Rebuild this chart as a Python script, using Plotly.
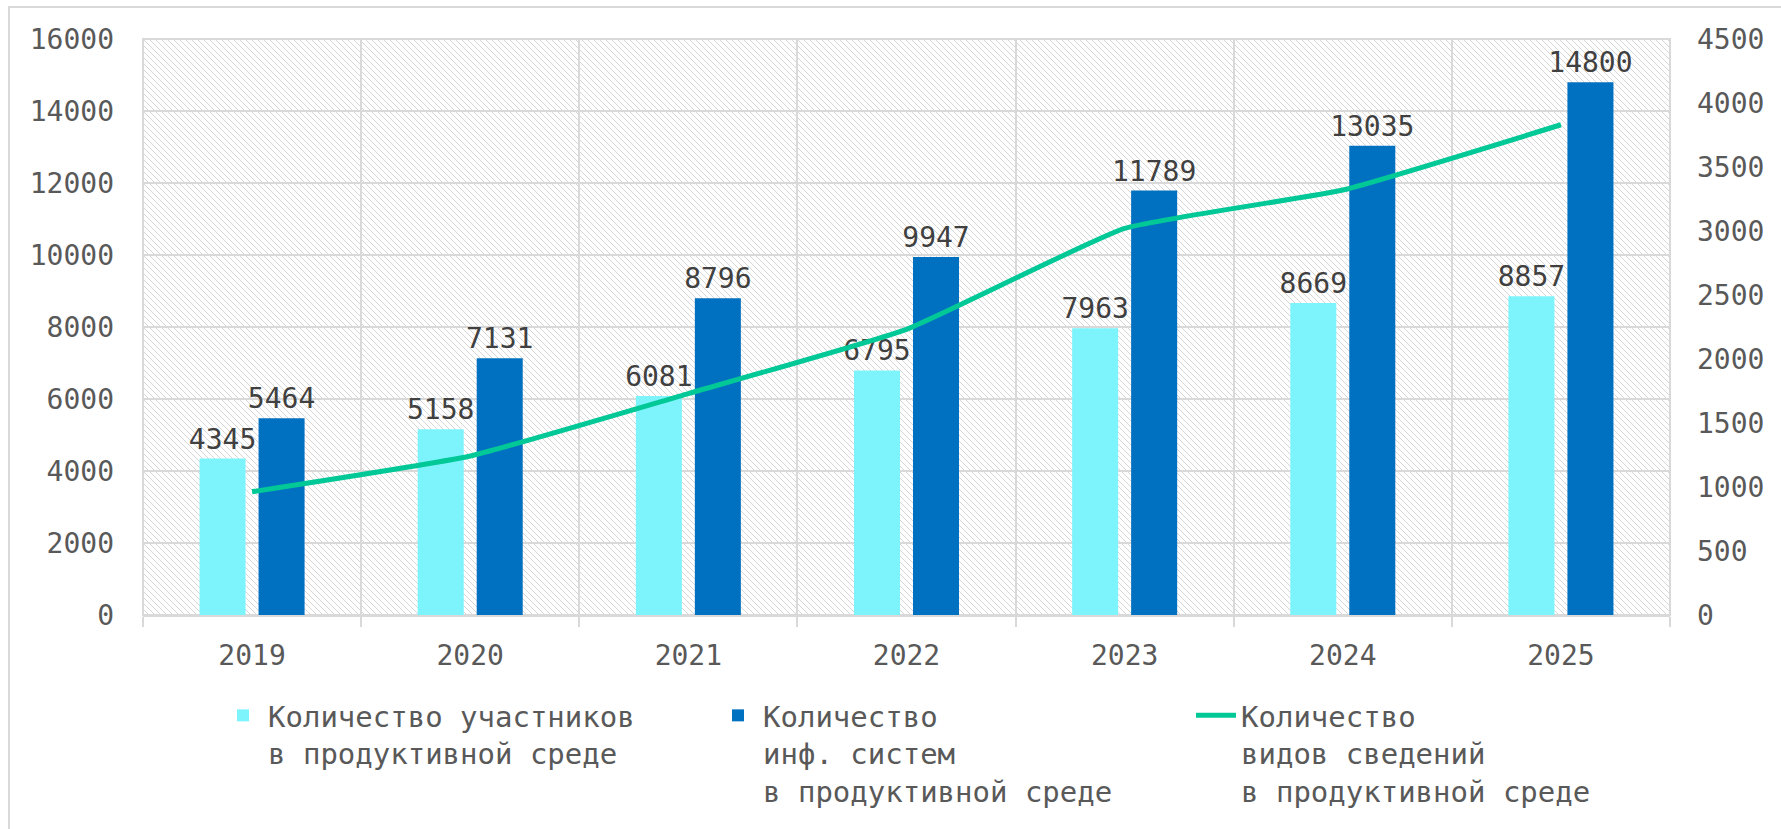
import plotly.graph_objects as go

years = ["2019", "2020", "2021", "2022", "2023", "2024", "2025"]
participants = [4345, 5158, 6081, 6795, 7963, 8669, 8857]
systems = [5464, 7131, 8796, 9947, 11789, 13035, 14800]
info_types = [963, 1242, 1730, 2232, 3020, 3320, 3830]

name_participants = "Количество участников<br>в продуктивной среде"
name_systems = "Количество<br>инф. систем<br>в продуктивной среде"
name_types = "Количество<br>видов сведений<br>в продуктивной среде"

FONT = "DejaVu Sans Mono"
TICK = "#595959"
LBL = "#404040"
GRID = "#d9d9d9"

W, H = 1781, 829
ML, MR, MT, MB = 143, 111, 39, 214
PW, PH = W - ML - MR, H - MT - MB


def px(x):
    return (x - ML) / PW


def py(y):
    return (H - MB - y) / PH


fig = go.Figure()
fig.add_trace(go.Bar(
    x=years, y=participants, name=name_participants,
    marker=dict(color="#7DF4FC", line=dict(width=8, color="rgba(0,0,0,0)")),
    text=participants, textposition="outside", cliponaxis=False,
    constraintext="none",
    textfont=dict(family=FONT, size=28, color=LBL), legend="legend",
))
fig.add_trace(go.Bar(
    x=years, y=systems, name=name_systems,
    marker=dict(color="#0070C0", line=dict(width=8, color="rgba(0,0,0,0)")),
    text=systems, textposition="outside", cliponaxis=False,
    constraintext="none",
    textfont=dict(family=FONT, size=28, color=LBL), legend="legend2",
))
fig.add_trace(go.Scatter(
    x=years, y=info_types, name=name_types, yaxis="y2", mode="lines",
    line=dict(color="#00C896", width=5, shape="spline", smoothing=0.4),
    legend="legend3", cliponaxis=False,
))

hatch = (
    "data:image/svg+xml;utf8,"
    "<svg xmlns='http://www.w3.org/2000/svg' width='%d' height='%d'>"
    "<defs><pattern id='p' width='6' height='6' patternUnits='userSpaceOnUse'>"
    "<path d='M-1,-1 L7,7 M-1,5 L1,7 M5,-1 L7,1' stroke='%%23d6d6d6' stroke-width='1'/>"
    "</pattern></defs><rect width='100%%' height='100%%' fill='url(%%23p)'/></svg>"
) % (PW, PH)

legend_common = dict(
    orientation="h", yanchor="top", xanchor="left", valign="top",
    font=dict(family=FONT, size=29, color=TICK),
    bgcolor="rgba(0,0,0,0)", itemwidth=40, tracegroupgap=0,
)

fig.update_layout(
    width=W, height=H,
    margin=dict(l=ML, r=MR, t=MT, b=MB, autoexpand=False),
    paper_bgcolor="white", plot_bgcolor="white",
    font=dict(family=FONT, size=28, color=TICK),
    barmode="group", bargap=0.459, bargroupgap=0.22,
    showlegend=True,
    legend=dict(x=px(218), y=py(690), **legend_common),
    legend2=dict(x=px(713), y=py(690), **legend_common),
    legend3=dict(x=px(1191), y=py(690), **legend_common),
    xaxis=dict(
        type="category", tickson="boundaries", showgrid=True,
        gridcolor=GRID, gridwidth=2, showline=True, linecolor=GRID,
        linewidth=2, ticks="outside", ticklen=10, tickcolor=GRID,
        tickwidth=2, tickfont=dict(family=FONT, size=28, color=TICK),
        ticklabelstandoff=14, fixedrange=True,
    ),
    yaxis=dict(
        range=[0, 16000], dtick=2000, tickformat="d", showgrid=True,
        gridcolor=GRID, gridwidth=2, zeroline=False, showline=False,
        tickfont=dict(family=FONT, size=28, color=TICK),
        ticklabelstandoff=28,
    ),
    yaxis2=dict(
        range=[0, 4500], dtick=500, tickformat="d", overlaying="y",
        side="right", showgrid=False, zeroline=False, showline=False,
        tickfont=dict(family=FONT, size=28, color=TICK),
        ticklabelstandoff=26,
    ),
    images=[dict(
        source=hatch, xref="paper", yref="paper", x=0, y=1,
        sizex=1, sizey=1, sizing="stretch", layer="below",
        xanchor="left", yanchor="top",
    )],
    shapes=[
        dict(type="rect", xref="paper", yref="paper", x0=0, x1=1, y0=0, y1=1,
             line=dict(color=GRID, width=2), layer="below"),
        dict(type="rect", xref="paper", yref="paper",
             x0=px(9), x1=px(W + 20), y0=py(H + 20), y1=py(7),
             line=dict(color=GRID, width=2), layer="below"),
    ],
)

fig.write_html(
    "out.html",
    config={"displayModeBar": False},
    post_script="document.body.style.margin='0';document.body.style.overflow='hidden';",
)
